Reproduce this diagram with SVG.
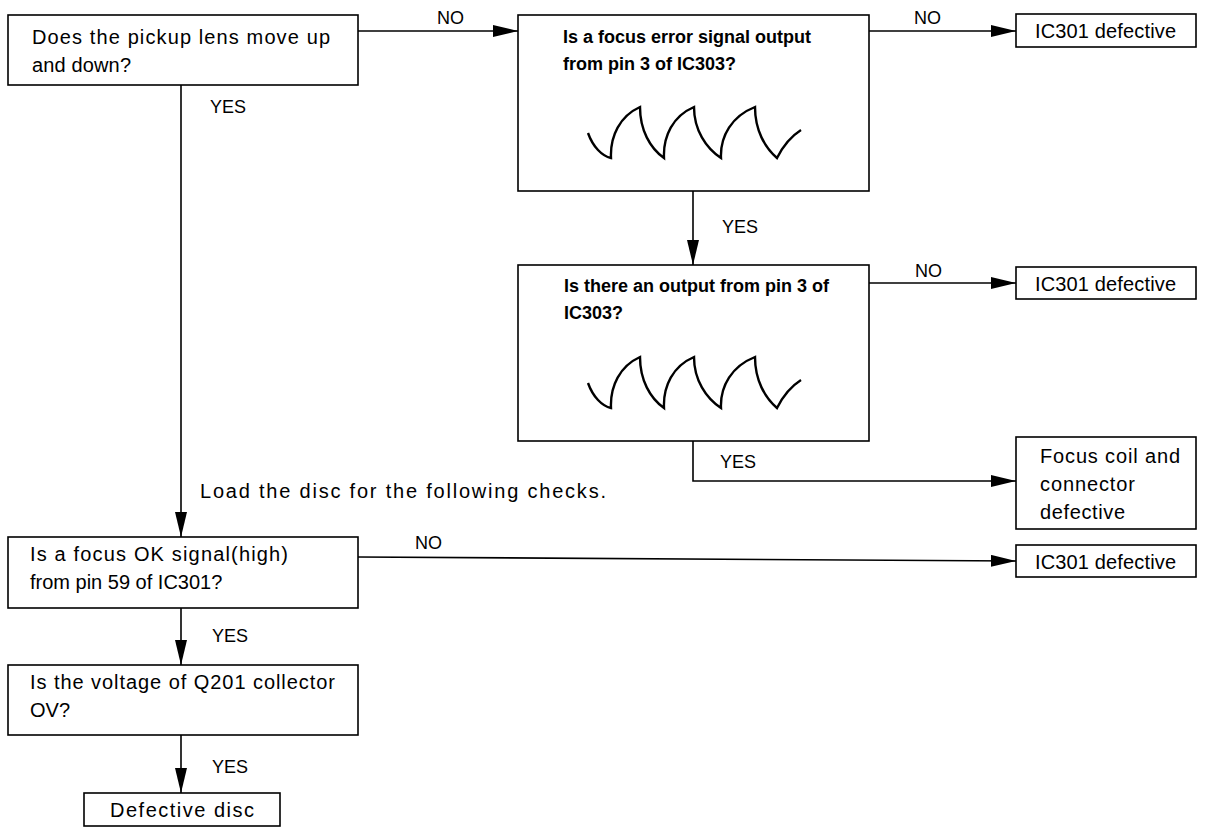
<svg xmlns="http://www.w3.org/2000/svg" width="1210" height="828" viewBox="0 0 1210 828">
<style>
.box{fill:#fff;stroke:#000;stroke-width:1.6}
.t{font-family:"Liberation Sans",Arial,sans-serif;font-size:20px;fill:#000}
.tb{font-family:"Liberation Sans",Arial,sans-serif;font-size:18px;font-weight:bold;fill:#000}
.lbl{font-family:"Liberation Sans",Arial,sans-serif;font-size:18px;fill:#000}
.ln{fill:none;stroke:#000;stroke-width:1.6}
.wave{fill:none;stroke:#000;stroke-width:2.4;stroke-linejoin:miter}
</style>
<defs>
<marker id="ah" markerUnits="userSpaceOnUse" markerWidth="25" markerHeight="12" refX="25" refY="6" orient="auto">
<path d="M0,0 L25,6 L0,12 z" fill="#000"/>
</marker>
</defs>
<rect width="1210" height="828" fill="#fff"/>

<g id="connectors">
<line class="ln" x1="358" y1="31" x2="518" y2="31" marker-end="url(#ah)"/>
<line class="ln" x1="869" y1="31" x2="1016" y2="31" marker-end="url(#ah)"/>
<line class="ln" x1="181" y1="85" x2="181" y2="537" marker-end="url(#ah)"/>
<line class="ln" x1="693" y1="191" x2="693" y2="265" marker-end="url(#ah)"/>
<line class="ln" x1="869" y1="283" x2="1016" y2="283" marker-end="url(#ah)"/>
<polyline class="ln" points="693,441 693,481 1016,481" marker-end="url(#ah)"/>
<line class="ln" x1="358" y1="557" x2="1016" y2="561" marker-end="url(#ah)"/>
<line class="ln" x1="181" y1="608" x2="181" y2="665" marker-end="url(#ah)"/>
<line class="ln" x1="181" y1="735" x2="181" y2="793" marker-end="url(#ah)"/>
<text class="lbl" x="437" y="24">NO</text>
<text class="lbl" x="914" y="24">NO</text>
<text class="lbl" x="210" y="113">YES</text>
<text class="lbl" x="722" y="233">YES</text>
<text class="lbl" x="915" y="277">NO</text>
<text class="lbl" x="720" y="468">YES</text>
<text class="t" x="200" y="498" textLength="406" lengthAdjust="spacing">Load the disc for the following checks.</text>
<text class="lbl" x="415" y="549">NO</text>
<text class="lbl" x="212" y="642">YES</text>
<text class="lbl" x="212" y="773">YES</text>
</g>

<g id="n_lens">
<rect class="box" x="8" y="15" width="350" height="70"/>
<text class="t" x="32" y="44" textLength="298" lengthAdjust="spacing">Does the pickup lens move up</text>
<text class="t" x="32" y="72" textLength="99" lengthAdjust="spacing">and down?</text>
</g>

<g id="n_focuserr">
<rect class="box" x="518" y="15" width="351" height="176"/>
<text class="tb" x="563" y="43">Is a focus error signal output</text>
<text class="tb" x="563" y="70">from pin 3 of IC303?</text>
<path class="wave" d="M588,133 C593,147 602,156 611,158 C610,136 620,116 640,107 C640,130 650,148 664,158 C663,136 673,116 694,107 C694,130 706,148 721,158 C720,136 732,116 755,107 C755,130 765,148 777,158 C783,146 790,137 801,130"/>
</g>

<g id="n_ic301a">
<rect class="box" x="1016" y="14" width="180" height="33"/>
<text class="t" x="1035" y="38" textLength="141" lengthAdjust="spacing">IC301 defective</text>
</g>

<g id="n_output">
<rect class="box" x="518" y="265" width="351" height="176"/>
<text class="tb" x="564" y="292">Is there an output from pin 3 of</text>
<text class="tb" x="564" y="319">IC303?</text>
<path class="wave" d="M588,383 C593,397 602,406 611,408 C610,386 620,366 640,357 C640,380 650,398 664,408 C663,386 673,366 694,357 C694,380 706,398 721,408 C720,386 732,366 755,357 C755,380 765,398 777,408 C783,396 790,387 801,380"/>
</g>

<g id="n_ic301b">
<rect class="box" x="1016" y="267" width="180" height="32"/>
<text class="t" x="1035" y="291" textLength="141" lengthAdjust="spacing">IC301 defective</text>
</g>

<g id="n_coil">
<rect class="box" x="1016" y="437" width="180" height="92"/>
<text class="t" x="1040" y="463" textLength="140" lengthAdjust="spacing">Focus coil and</text>
<text class="t" x="1040" y="491" textLength="95" lengthAdjust="spacing">connector</text>
<text class="t" x="1040" y="519" textLength="85" lengthAdjust="spacing">defective</text>
</g>

<g id="n_focusok">
<rect class="box" x="8" y="537" width="350" height="71"/>
<text class="t" x="30" y="561" textLength="258" lengthAdjust="spacing">Is a focus OK signal(high)</text>
<text class="t" x="30" y="589">from pin 59 of IC301?</text>
</g>

<g id="n_ic301c">
<rect class="box" x="1016" y="545" width="180" height="32"/>
<text class="t" x="1035" y="569" textLength="141" lengthAdjust="spacing">IC301 defective</text>
</g>

<g id="n_q201">
<rect class="box" x="8" y="665" width="350" height="70"/>
<text class="t" x="30" y="689" textLength="305" lengthAdjust="spacing">Is the voltage of Q201 collector</text>
<text class="t" x="30" y="717">OV?</text>
</g>

<g id="n_disc">
<rect class="box" x="84" y="793" width="196" height="33"/>
<text class="t" x="110" y="817" textLength="144" lengthAdjust="spacing">Defective disc</text>
</g>
</svg>
